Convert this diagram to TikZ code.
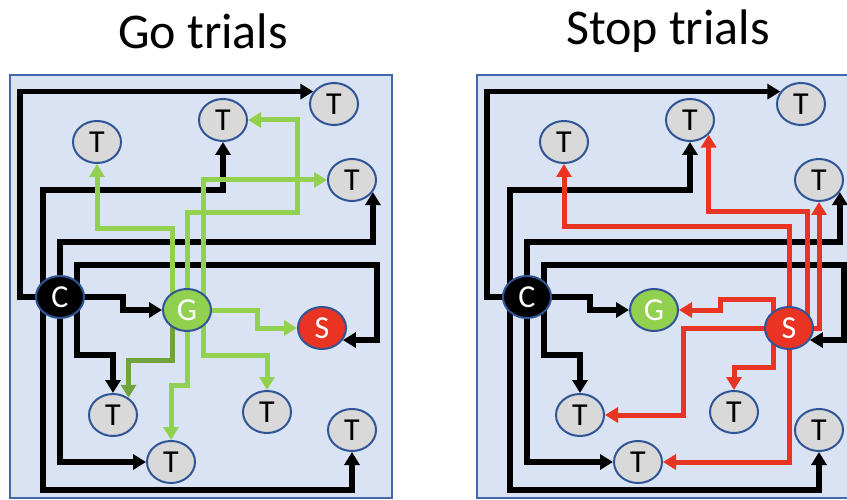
\documentclass[tikz,border=0pt]{standalone}
\usepackage{fontspec}
\setmainfont{Carlito}
\usepackage{tikz}
\usetikzlibrary{shapes,arrows.meta,calc,backgrounds}
\definecolor{panelfill}{RGB}{218,227,243}
\definecolor{paneledge}{RGB}{68,103,170}
\definecolor{nodeedge}{RGB}{47,85,151}
\definecolor{tgray}{RGB}{217,217,217}
\definecolor{gogreen}{RGB}{146,208,80}
\definecolor{godark}{RGB}{112,163,62}
\definecolor{stopred}{RGB}{233,51,35}

\tikzset{
  paneltitle/.style={font=\fontsize{50}{60}\selectfont},
  panel/.style={draw=paneledge, line width=1.5pt, fill=panelfill},
  tnode/.style={ellipse, draw=nodeedge, line width=2pt, fill=tgray,
    minimum width=48pt, minimum height=42pt, inner sep=0pt,
    font=\fontsize{32}{32}\selectfont},
  cnode/.style={tnode, fill=black, text=white},
  gnode/.style={tnode, fill=gogreen, text=white},
  snode/.style={tnode, fill=stopred, text=white},
  bline/.style={line width=5.5pt, black, -{Triangle[length=13pt,width=15pt]}},
  goline/.style={line width=5pt, gogreen, -{Triangle[length=13pt,width=15pt]}},
  stopline/.style={line width=5pt, stopred, -{Triangle[length=13pt,width=15pt]}}
}

\begin{document}
\begin{tikzpicture}[x=1pt, y=-1pt]
    \useasboundingbox (0,0) rectangle (847,500);

    % Titles
    \node[paneltitle] (gotitle) at (203,31) {Go trials};
    \node[paneltitle] (stoptitle) at (668,31) {Stop trials};

    % Both panels: same nodes, same black links from C
    \foreach \p/\dx in {g/0, s/467} {
      \begin{scope}[xshift=\dx pt]
        \node[cnode] (\p C) at (60,297) {C};
        \node[gnode] (\p G) at (187,310) {G};
        \node[snode] (\p S) at (322,328) {S};
        \node[tnode] (\p T1) at (97,142) {T};
        \node[tnode] (\p T2) at (223,120) {T};
        \node[tnode] (\p T3) at (334,104) {T};
        \node[tnode] (\p T4) at (352,180) {T};
        \node[tnode] (\p T5) at (113,415) {T};
        \node[tnode] (\p T6) at (171,462) {T};
        \node[tnode] (\p T7) at (267,412) {T};
        \node[tnode] (\p T8) at (352,430) {T};

        \begin{scope}[on background layer]
          \draw[panel] (10,75) rectangle (392,498);
          \draw[bline] (\p C.center) -| (20,0 |- \p T3.149) -- (\p T3.149);
          \draw[bline] ([xshift=-17pt]\p C.center) |- (\p T2.south |- 0,190) -- (\p T2.south);
          \draw[bline] (\p C.center) |- (\p T4.330 |- 0,242) -- (\p T4.330);
          \draw[bline] ([xshift=17pt]\p C.center) |- (377,265) |- (\p S.330);
          \draw[bline] (\p C.center) -- (123,297) |- (\p G.west);
          \draw[bline] ([xshift=17pt]\p C.center) |- (\p T5.north |- 0,355) -- (\p T5.north);
          \draw[bline] (\p C.center) |- (\p T6.west);
          \draw[bline] ([xshift=-17pt]\p C.center) |- (\p T8.south |- 0,490) -- (\p T8.south);
        \end{scope}
      \end{scope}
    }

    % Go trials: green links from G
    \begin{scope}[on background layer]
      \draw[goline] ([xshift=-15pt]gG.center) |- (gT1.south |- 0,229) -- (gT1.south);
      \draw[goline] (gG.center) |- (297,213) |- (gT2.east);
      \draw[goline] ([xshift=16pt]gG.center) |- (gT4.west);
      \draw[goline] (gG.center) -- (257,310) |- (gS.west);
      \draw[goline] ([xshift=16pt]gG.center) |- (gT7.north |- 0,355) -- (gT7.north);
      \draw[goline, godark] ([xshift=-15pt]gG.center) |- (gT5.48 |- 0,360) -- (gT5.48);
      \draw[goline] (gG.center) |- (gT6.north |- 0,385) -- (gT6.north);
    \end{scope}

    % Stop trials: red links from S
    \begin{scope}[xshift=467pt, on background layer]
      \draw[stopline] (sS.center) |- (sT1.south |- 0,227) -- (sT1.south);
      \draw[stopline] ([xshift=18pt]sS.center) |- (sT2.322 |- 0,212) -- (sT2.322);
      \draw[stopline] (sS.center) -| (sT4.south);
      \draw[stopline] ([xshift=-16pt]sS.center) |- (253,299) |- (sG.east);
      \draw[stopline] (sS.center) -- (216,328) |- (sT5.east);
      \draw[stopline] ([xshift=-16pt]sS.center) |- (sT7.north |- 0,367) -- (sT7.north);
      \draw[stopline] (sS.center) |- (sT6.east);
    \end{scope}
\end{tikzpicture}
\end{document}
